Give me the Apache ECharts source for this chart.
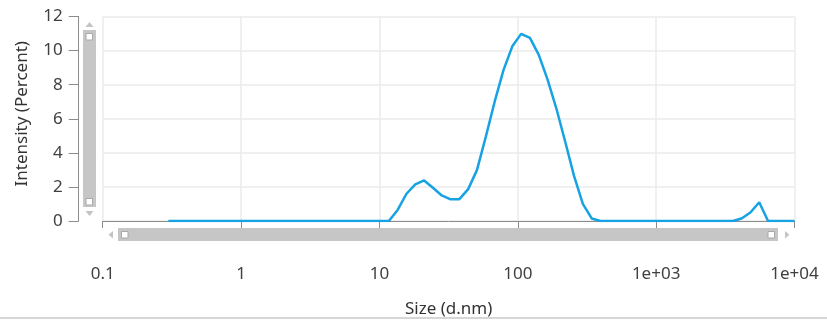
<!DOCTYPE html>
<html>
<head>
<meta charset="utf-8">
<script src="https://cdn.jsdelivr.net/npm/echarts@6/dist/echarts.min.js"></script>
<style>
html,body{margin:0;padding:0;background:#fff;}
#chart{width:827px;height:323px;}
</style>
</head>
<body>
<div id="chart"></div>
<script>
// Size bins (d.nm)
const sizes = [0.2983, 0.3454, 0.4, 0.4632, 0.5365, 0.6213, 0.7195, 0.8332, 0.9649, 1.117, 1.294, 1.499, 1.736, 2.01, 2.328, 2.696, 3.122, 3.615, 4.187, 4.849, 5.615, 6.503, 7.531, 8.721, 10.1, 11.7, 13.54, 15.69, 18.17, 21.04, 24.36, 28.21, 32.67, 37.84, 43.82, 50.75, 58.77, 68.06, 78.82, 91.28, 105.7, 122.4, 141.8, 164.2, 190.1, 220.2, 255.0, 295.3, 342.0, 396.1, 458.7, 531.2, 615.1, 712.4, 825.0, 955.4, 1106, 1281, 1484, 1718, 1990, 2305, 2669, 3091, 3580, 4145, 4801, 5560, 6439, 7456, 8635, 10000];
// Intensity (Percent)
const intensity = [0, 0, 0, 0, 0, 0, 0, 0, 0, 0, 0, 0, 0, 0, 0, 0, 0, 0, 0, 0, 0, 0, 0, 0, 0, 0, 0.65, 1.6, 2.15, 2.38, 1.95, 1.5, 1.27, 1.28, 1.87, 3.0, 4.95, 7.0, 8.85, 10.25, 10.98, 10.75, 9.75, 8.3, 6.6, 4.65, 2.65, 1.0, 0.15, 0, 0, 0, 0, 0, 0, 0, 0, 0, 0, 0, 0, 0, 0, 0, 0, 0.15, 0.5, 1.1, 0, 0, 0, 0];
const xTickLabels = ['0.1', '1', '10', '100', '1e+03', '1e+04'];
const yTicks = [0, 2, 4, 6, 8, 10, 12];
const xTitle = 'Size (d.nm)';
const yTitle = 'Intensity (Percent)';

const FONT = "'Noto Sans', 'Open Sans', sans-serif";
const chart = echarts.init(document.getElementById('chart'), null, {renderer: 'canvas'});
const barGray = '#c6c6c6';
const arrowGray = '#c4c4c4';

const option = {
  animation: false,
  backgroundColor: '#fff',
  textStyle: {fontFamily: FONT},
  grid: {left: 102.7, right: 32.5, top: 16.5, bottom: 101, containLabel: false},
  xAxis: {
    type: 'log',
    logBase: 10,
    min: 0.1,
    max: 10000,
    offset: 25,
    name: xTitle,
    nameLocation: 'middle',
    nameGap: 55,
    nameTextStyle: {fontFamily: FONT, fontSize: 17, color: '#333'},
    axisLine: {show: true, lineStyle: {color: '#8c8c8c', width: 1}},
    axisTick: {show: true, inside: false, length: 7, lineStyle: {color: '#8c8c8c'}},
    axisLabel: {
      margin: 20,
      fontFamily: FONT, fontSize: 17, color: '#404040',
      formatter: function (v) {
        const i = Math.round(Math.log10(v)) + 1;
        return xTickLabels[i] !== undefined ? xTickLabels[i] : '';
      }
    },
    splitLine: {show: true, showMinLine: true, showMaxLine: true, lineStyle: {color: '#ebebeb', width: 1.5}},
    minorTick: {show: false}
  },
  yAxis: {
    type: 'value',
    min: yTicks[0],
    max: yTicks[yTicks.length - 1],
    interval: 2,
    offset: 24,
    name: yTitle,
    nameLocation: 'middle',
    nameGap: 48,
    nameTextStyle: {fontFamily: FONT, fontSize: 17, color: '#333', padding: [0, 0, 0, 10]},
    axisLine: {show: true, lineStyle: {color: '#8c8c8c', width: 1}},
    axisTick: {show: true, length: 10, lineStyle: {color: '#8c8c8c'}},
    axisLabel: {margin: 16, fontFamily: FONT, fontSize: 17, color: '#404040'},
    splitLine: {show: true, showMinLine: true, showMaxLine: true, lineStyle: {color: '#ebebeb', width: 1.5}}
  },
  series: [{
    type: 'line',
    data: sizes.map((s, i) => [s, intensity[i]]),
    symbol: 'none',
    smooth: false,
    lineStyle: {color: '#17a2e4', width: 2.5},
    itemStyle: {color: '#17a2e4'},
    z: 5
  }],
  graphic: [
    // vertical scrollbar
    {type: 'rect', shape: {x: 83, y: 30, width: 13, height: 177}, style: {fill: barGray}, silent: true},
    {type: 'rect', shape: {x: 86, y: 33.5, width: 6.5, height: 6.5}, style: {fill: '#fff', stroke: '#a8a8a8', lineWidth: 1}, silent: true},
    {type: 'rect', shape: {x: 86, y: 198.5, width: 6.5, height: 6.5}, style: {fill: '#fff', stroke: '#a8a8a8', lineWidth: 1}, silent: true},
    {type: 'polygon', shape: {points: [[85.5, 27], [93.5, 27], [89.5, 22]]}, style: {fill: arrowGray}, silent: true},
    {type: 'polygon', shape: {points: [[85.5, 211], [93.5, 211], [89.5, 216]]}, style: {fill: arrowGray}, silent: true},
    // horizontal scrollbar
    {type: 'rect', shape: {x: 118, y: 228, width: 660, height: 13}, style: {fill: barGray}, silent: true},
    {type: 'rect', shape: {x: 121.5, y: 231.5, width: 6.5, height: 6.5}, style: {fill: '#fff', stroke: '#a8a8a8', lineWidth: 1}, silent: true},
    {type: 'rect', shape: {x: 768, y: 231.5, width: 6.5, height: 6.5}, style: {fill: '#fff', stroke: '#a8a8a8', lineWidth: 1}, silent: true},
    {type: 'polygon', shape: {points: [[113, 231], [113, 238.5], [108.5, 234.75]]}, style: {fill: arrowGray}, silent: true},
    {type: 'polygon', shape: {points: [[785, 231], [785, 238.5], [789.5, 234.75]]}, style: {fill: arrowGray}, silent: true},
    // bottom separator
    {type: 'rect', shape: {x: 0, y: 317, width: 827, height: 2}, style: {fill: '#d6d6d6'}, silent: true}
  ]
};
chart.setOption(option);
</script>
</body>
</html>
